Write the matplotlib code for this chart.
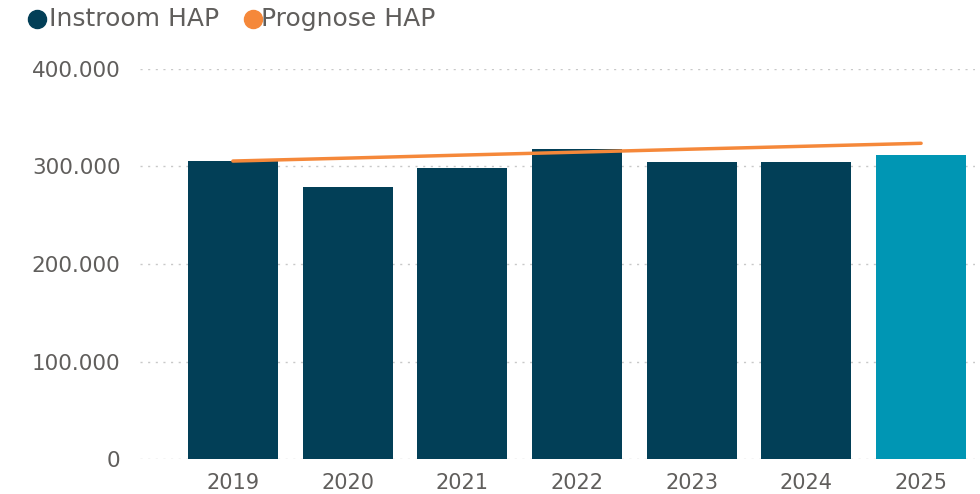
import matplotlib
matplotlib.use("Agg")
import matplotlib.pyplot as plt
from matplotlib.lines import Line2D
from matplotlib.ticker import FuncFormatter

years = ["2019", "2020", "2021", "2022", "2023", "2024", "2025"]
instroom = [305600, 279000, 298500, 318000, 304600, 304600, 311800]
prognose = [305600, 308600, 311700, 314700, 317800, 320800, 323800]
yticks = [0, 100000, 200000, 300000, 400000]
legend_labels = ["Instroom HAP", "Prognose HAP"]

dark = "#023F57"
light = "#0096B4"
orange = "#F5883A"
grey = "#605E5C"

W, H = 980, 494
fig = plt.figure(figsize=(W / 100, H / 100), dpi=100)
ax = fig.add_axes([140 / W, 35 / H, 835 / W, 390 / H])

x = list(range(len(years)))
colors = [dark] * (len(years) - 1) + [light]
ax.bar(x, instroom, width=0.785, color=colors, zorder=2)
ax.plot(x, prognose, color=orange, linewidth=2.5, zorder=3, solid_capstyle="round")

ax.set_xlim(-0.81, 6.47)
ax.set_ylim(0, 400000)
ax.set_yticks(yticks)
ax.yaxis.set_major_formatter(FuncFormatter(lambda v, p: "0" if v == 0 else f"{int(v):,}".replace(",", ".")))
ax.set_xticks(x)
ax.set_xticklabels(years)

for s in ax.spines.values():
    s.set_visible(False)
ax.tick_params(axis="both", length=0, labelcolor=grey)
ax.tick_params(axis="y", pad=14, labelsize=15.5)
ax.tick_params(axis="x", pad=10, labelsize=15)
ax.grid(axis="y", color="#C8C8C8", linestyle=(0, (1.5, 4)), linewidth=1, zorder=0)
ax.set_axisbelow(True)

# legend drawn manually in pixel positions
leg_colors = [dark, orange]
marker_x = [37, 253]
text_x = [49, 261]
for lbl, c, mx, tx in zip(legend_labels, leg_colors, marker_x, text_x):
    fig.add_artist(Line2D([mx / W], [1 - 19 / H], marker="o", markersize=13,
                          color=c, linestyle="", transform=fig.transFigure))
    fig.text(tx / W, 1 - 19 / H, lbl, fontsize=18, color=grey, va="center", ha="left")

fig.savefig("out.png", dpi=100)
